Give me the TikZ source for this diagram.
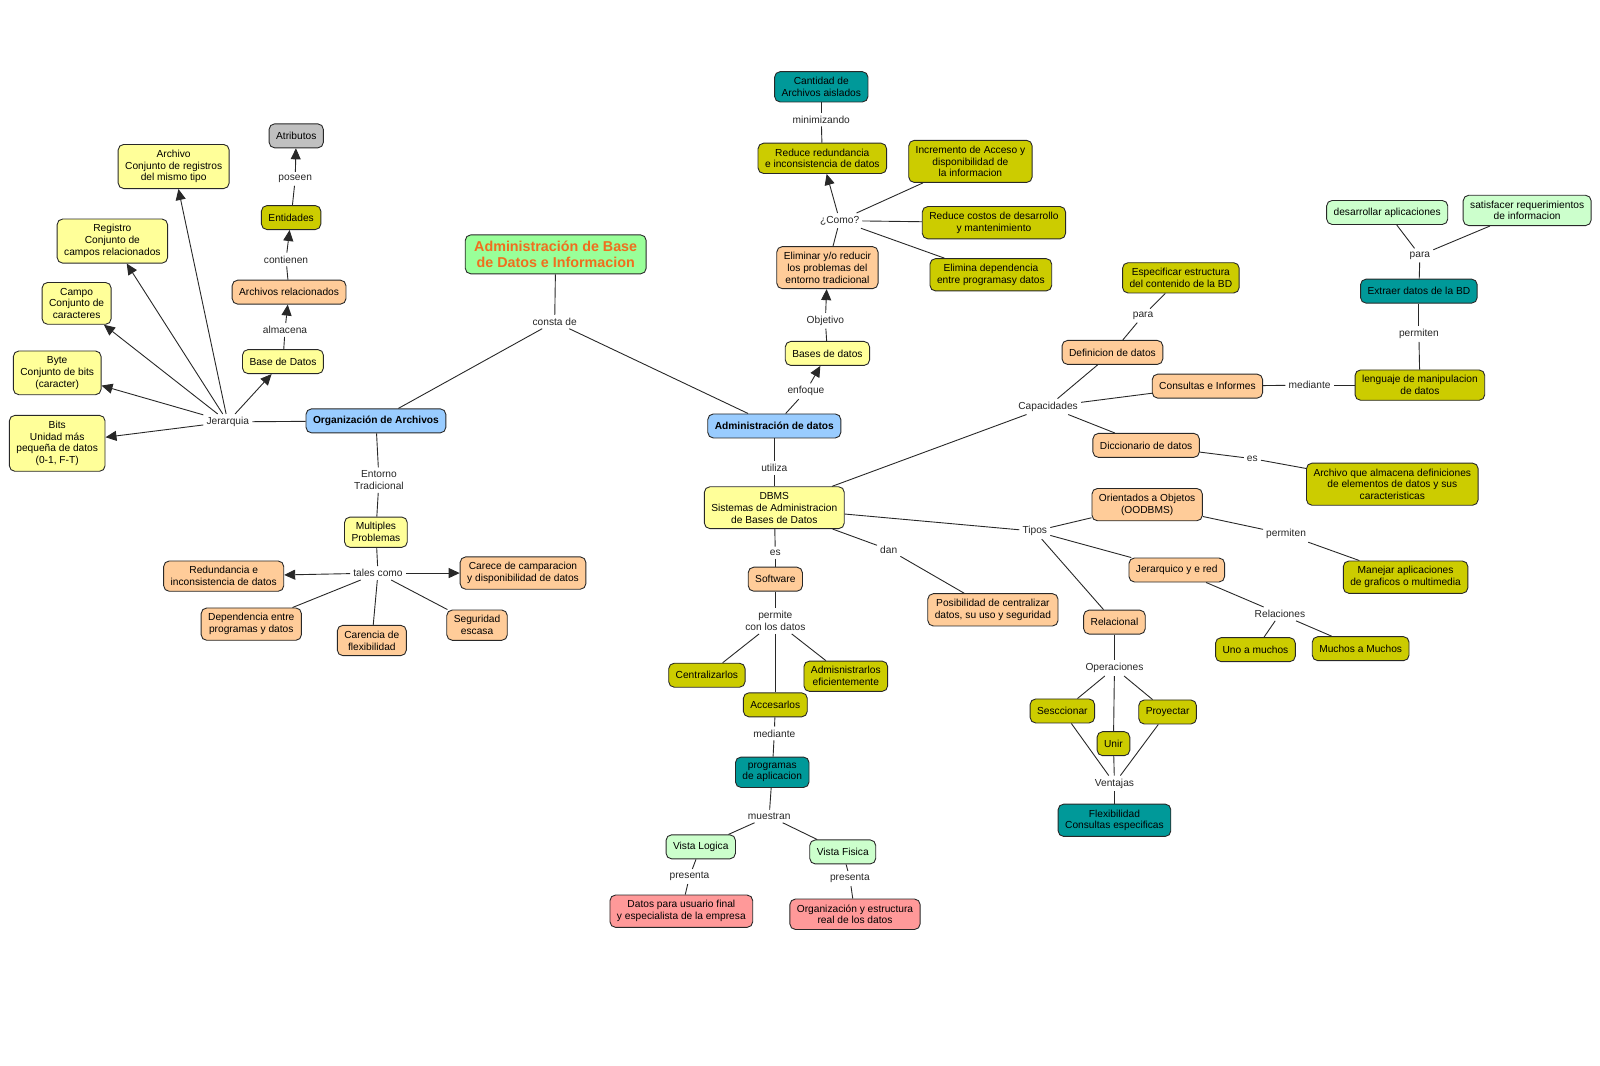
\documentclass[tikz,border=0pt]{standalone}
\usepackage{fontspec}
\setmainfont{Liberation Sans}
\usetikzlibrary{arrows.meta}
\definecolor{cyel}{RGB}{255,255,153}
\definecolor{cpeach}{RGB}{255,204,153}
\definecolor{colive}{RGB}{204,204,0}
\definecolor{cteal}{RGB}{0,153,153}
\definecolor{cblue}{RGB}{153,204,255}
\definecolor{cgreen}{RGB}{153,255,153}
\definecolor{clgreen}{RGB}{204,255,204}
\definecolor{cpink}{RGB}{255,153,153}
\definecolor{cgray}{RGB}{192,192,192}
\definecolor{corange}{RGB}{240,110,30}
\definecolor{cline}{RGB}{40,40,40}
\begin{document}
\begin{tikzpicture}[x=1.0215pt,y=-1.0215pt,
  box/.style={draw=cline, line width=0.9pt, rounded corners=5.5pt, align=center,
    font=\fontsize{10.2}{11.8}\selectfont, inner xsep=7pt, inner ysep=5.5pt, minimum height=24pt},
  lbl/.style={font=\fontsize{10.2}{11.8}\selectfont, align=center, inner sep=3pt, text=black!85},
  con/.style={draw=cline, line width=0.9pt},
  arr/.style={con, -{Triangle[length=11pt,width=10pt]}},
]
\useasboundingbox (0pt,0pt) rectangle (1600pt,-1065pt);

% ---------- left part ----------
\node[box,fill=cgray] (atr) at (290,133) {Atributos};
\node[box,fill=colive] (ent) at (285,213) {Entidades};
\node[lbl] (poseen) at (289,175) {poseen};
\node[box,fill=cpeach] (arel) at (283,286) {Archivos relacionados};
\node[lbl] (contienen) at (280,254) {contienen};
\node[box,fill=cyel] (bd) at (277,354) {Base de Datos};
\node[lbl] (almacena) at (279,323) {almacena};
\node[box,fill=cyel] (archivo) at (170,163) {Archivo\\Conjunto de registros\\del mismo tipo};
\node[box,fill=cyel] (registro) at (110,236) {Registro\\Conjunto de\\campos relacionados};
\node[box,fill=cyel] (campo) at (75,297) {Campo\\Conjunto de\\caracteres};
\node[box,fill=cyel] (byte) at (56,365) {Byte\\Conjunto de bits\\(caracter)};
\node[box,fill=cyel] (bits) at (56,434) {Bits\\Unidad más\\pequeña de datos\\(0-1, F-T)};
\node[lbl] (jer) at (223,413) {Jerarquia};
\node[box,fill=cblue] (org) at (368,412) {\textbf{Organización de Archivos}};

\node[box,fill=cgreen,font=\fontsize{14.3}{16.3}\selectfont\bfseries,text=corange,inner xsep=9pt,inner ysep=6pt] (title) at (544,249) {Administración de Base\\de Datos e Informacion};
\node[lbl] (consta) at (543,315) {consta de};

\node[lbl] (entorno) at (371,470) {Entorno\\Tradicional};
\node[box,fill=cyel] (mult) at (368,521) {Multiples\\Problemas};
\node[lbl] (tales) at (370,561) {tales como};
\node[box,fill=cpeach] (redund) at (219,564) {Redundancia e\\inconsistencia de datos};
\node[box,fill=cpeach] (carece) at (512,561) {Carece de camparacion\\y disponibilidad de datos};
\node[box,fill=cpeach] (depend) at (246,611) {Dependencia entre\\programas y datos};
\node[box,fill=cpeach] (carencia) at (364,627) {Carencia de\\flexibilidad};
\node[box,fill=cpeach] (seg) at (467,612) {Seguridad\\escasa};

% ---------- middle part ----------
\node[box,fill=cblue] (adm) at (758,417) {\textbf{Administración de datos}};
\node[lbl] (enfoque) at (789,383) {enfoque};
\node[box,fill=cyel] (basesd) at (810,346) {Bases de datos};
\node[lbl] (objetivo) at (808,314) {Objetivo};
\node[box,fill=cpeach] (elim) at (810,262) {Eliminar y/o reducir\\los problemas del\\entorno tradicional};
\node[lbl] (como) at (822,216) {¿Como?};
\node[box,fill=colive] (redred) at (805,155) {Reduce redundancia\\e inconsistencia de datos};
\node[lbl] (minim) at (804,117) {minimizando};
\node[box,fill=cteal] (cant) at (804,85) {Cantidad de\\Archivos aislados};
\node[box,fill=colive] (incr) at (950,158) {Incremento de Acceso y\\disponibilidad de\\la informacion};
\node[box,fill=colive] (redcost) at (973,218) {Reduce costos de desarrollo\\y mantenimiento};
\node[box,fill=colive] (elimdep) at (970,269) {Elimina dependencia\\entre programasy datos};

\node[lbl] (utiliza) at (758,458) {utiliza};
\node[box,fill=cyel] (dbms) at (758,497) {DBMS\\Sistemas de Administracion\\de Bases de Datos};
\node[lbl] (es1) at (759,541) {es};
\node[box,fill=cpeach] (soft) at (759,567) {Software};
\node[lbl] (permite) at (759,608) {permite\\con los datos};
\node[box,fill=colive] (centr) at (692,661) {Centralizarlos};
\node[box,fill=colive] (acces) at (759,690) {Accesarlos};
\node[box,fill=colive] (admis) at (828,662) {Admisnistrarlos\\eficientemente};
\node[lbl] (mediante1) at (758,718) {mediante};
\node[box,fill=cteal] (prog) at (756,756) {programas\\de aplicacion};
\node[lbl] (muestran) at (753,799) {muestran};
\node[box,fill=clgreen] (vlog) at (686,829) {Vista Logica};
\node[box,fill=clgreen] (vfis) at (825,834) {Vista Fisica};
\node[lbl] (pres1) at (675,858) {presenta};
\node[lbl] (pres2) at (832,860) {presenta};
\node[box,fill=cpink] (datosu) at (667,892) {Datos para usuario final\\y especialista de la empresa};
\node[box,fill=cpink] (orgest) at (837,895) {Organización y estructura\\real de los datos};
\node[lbl] (dan) at (870,538) {dan};
\node[box,fill=cpeach] (posib) at (972,597) {Posibilidad de centralizar\\datos, su uso y seguridad};

% ---------- right part ----------
\node[lbl] (capac) at (1026,398) {Capacidades};
\node[box,fill=cpeach] (defin) at (1089,345) {Definicion de datos};
\node[lbl] (para1) at (1119,309) {para};
\node[box,fill=colive] (espec) at (1156,272) {Especificar estructura\\del contenido de la BD};
\node[box,fill=cpeach] (consul) at (1182,378) {Consultas e Informes};
\node[lbl] (mediante2) at (1282,377) {mediante};
\node[box,fill=colive] (leng) at (1390,377) {lenguaje de manipulacion\\de datos};
\node[lbl] (permiten1) at (1389,327) {permiten};
\node[box,fill=cteal] (extr) at (1389,285) {Extraer datos de la BD};
\node[lbl] (para2) at (1390,250) {para};
\node[box,fill=clgreen] (desar) at (1358,208) {desarrollar aplicaciones};
\node[box,fill=clgreen] (satis) at (1495,206) {satisfacer requerimientos\\de informacion};
\node[box,fill=cpeach] (dicc) at (1122,436) {Diccionario de datos};
\node[lbl] (es2) at (1226,449) {es};
\node[box,fill=colive] (archq) at (1363,474) {Archivo que almacena definiciones\\de elementos de datos y sus\\caracteristicas};

\node[lbl] (tipos) at (1013,520) {Tipos};
\node[box,fill=cpeach] (orient) at (1123,494) {Orientados a Objetos\\(OODBMS)};
\node[lbl] (permiten2) at (1259,523) {permiten};
\node[box,fill=colive] (manej) at (1376,565) {Manejar aplicaciones\\de graficos o multimedia};
\node[box,fill=cpeach] (jerq) at (1152,558) {Jerarquico y e red};
\node[lbl] (relac) at (1253,601) {Relaciones};
\node[box,fill=colive] (uno) at (1229,636) {Uno a muchos};
\node[box,fill=colive] (muchos) at (1332,635) {Muchos a Muchos};
\node[box,fill=cpeach] (relacional) at (1091,609) {Relacional};
\node[lbl] (oper) at (1091,654) {Operaciones};
\node[box,fill=colive] (sesc) at (1040,696) {Sesccionar};
\node[box,fill=colive] (unir) at (1090,728) {Unir};
\node[box,fill=colive] (proy) at (1143,697) {Proyectar};
\node[lbl] (vent) at (1091,767) {Ventajas};
\node[box,fill=cteal] (flex) at (1091,803) {Flexibilidad\\Consultas especificas};

% ---------- connectors ----------
\draw[con] (ent) -- (poseen); \draw[arr] (poseen) -- (atr);
\draw[con] (arel) -- (contienen); \draw[arr] (contienen) -- (ent);
\draw[con] (bd) -- (almacena); \draw[arr] (almacena) -- (arel);
\draw[con] (org) -- (jer);
\foreach \t in {bd,archivo,registro,campo,byte,bits} \draw[arr] (jer) -- (\t);
\draw[con] (title) -- (consta);
\draw[con] (consta) -- (org);
\draw[con] (consta) -- (adm);
\draw[con] (org) -- (entorno); \draw[con] (entorno) -- (mult);
\draw[con] (mult) -- (tales);
\draw[arr] (tales) -- (redund);
\draw[arr] (tales) -- (carece);
\draw[con] (tales) -- (depend);
\draw[con] (tales) -- (carencia);
\draw[con] (tales) -- (seg);

\draw[con] (adm) -- (enfoque); \draw[arr] (enfoque) -- (basesd);
\draw[con] (basesd) -- (objetivo); \draw[arr] (objetivo) -- (elim);
\draw[con] (elim) -- (como); \draw[arr] (como) -- (redred);
\draw[con] (como) -- (incr);
\draw[con] (como) -- (redcost);
\draw[con] (como) -- (elimdep);
\draw[con] (redred) -- (minim); \draw[con] (minim) -- (cant);

\draw[con] (adm) -- (utiliza); \draw[con] (utiliza) -- (dbms);
\draw[con] (dbms) -- (es1); \draw[con] (es1) -- (soft);
\draw[con] (soft) -- (permite);
\draw[con] (permite) -- (centr);
\draw[con] (permite) -- (acces);
\draw[con] (permite) -- (admis);
\draw[con] (acces) -- (mediante1); \draw[con] (mediante1) -- (prog);
\draw[con] (prog) -- (muestran);
\draw[con] (muestran) -- (vlog);
\draw[con] (muestran) -- (vfis);
\draw[con] (vlog) -- (pres1); \draw[con] (pres1) -- (datosu);
\draw[con] (vfis) -- (pres2); \draw[con] (pres2) -- (orgest);
\draw[con] (dbms) -- (dan); \draw[con] (dan) -- (posib);

\draw[con] (dbms) -- (capac);
\draw[con] (capac) -- (defin);
\draw[con] (capac) -- (consul);
\draw[con] (capac) -- (dicc);
\draw[con] (defin) -- (para1); \draw[con] (para1) -- (espec);
\draw[con] (consul) -- (mediante2); \draw[con] (mediante2) -- (leng);
\draw[con] (leng) -- (permiten1); \draw[con] (permiten1) -- (extr);
\draw[con] (extr) -- (para2);
\draw[con] (para2) -- (desar);
\draw[con] (para2) -- (satis);
\draw[con] (dicc) -- (es2); \draw[con] (es2) -- (archq);

\draw[con] (dbms) -- (tipos);
\draw[con] (tipos) -- (orient);
\draw[con] (tipos) -- (jerq);
\draw[con] (tipos) -- (relacional);
\draw[con] (orient) -- (permiten2); \draw[con] (permiten2) -- (manej);
\draw[con] (jerq) -- (relac);
\draw[con] (relac) -- (uno);
\draw[con] (relac) -- (muchos);
\draw[con] (relacional) -- (oper);
\draw[con] (oper) -- (sesc);
\draw[con] (oper) -- (unir);
\draw[con] (oper) -- (proy);
\draw[con] (sesc) -- (vent);
\draw[con] (unir) -- (vent);
\draw[con] (proy) -- (vent);
\draw[con] (vent) -- (flex);
\end{tikzpicture}
\end{document}
